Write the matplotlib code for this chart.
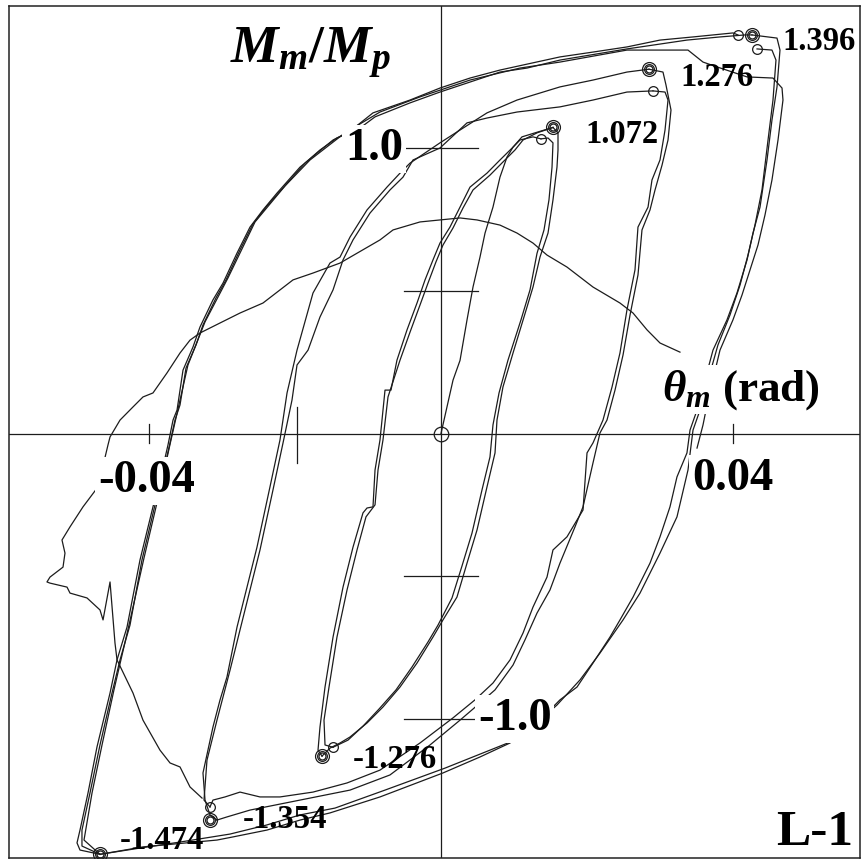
import matplotlib
matplotlib.use("Agg")
import matplotlib.pyplot as plt
import numpy as np

plt.rcParams['font.family'] = ['Liberation Serif', 'DejaVu Serif']
plt.rcParams['mathtext.fontset'] = 'custom'
plt.rcParams['mathtext.it'] = 'Liberation Serif:bold:italic'
plt.rcParams['mathtext.rm'] = 'Liberation Serif:bold'
plt.rcParams['mathtext.bf'] = 'Liberation Serif:bold'

# ---------------------------------------------------------------
# Measured moment-rotation history, specimen L-1
# rotation theta_m in mrad, moment ratio Mm/Mp
# ---------------------------------------------------------------

# first loading from the origin
init_th = [0, 0.82, 1.65, 2.61, 3.57, 4.39, 5.35, 6.04, 7.13, 8.09, 9.05, 9.88, 11.11, 12.89, 15.36]
init_m = [0, 0.093, 0.187, 0.256, 0.398, 0.513, 0.618, 0.702, 0.793, 0.898, 0.968, 1.003, 1.039, 1.053, 1.072]

# small-amplitude cycles: unloading branches
s_down1_th = [15.36, 16.05, 16.05, 15.91, 15.36, 14.68, 13.58, 12.62, 11.80, 9.88, 8.50, 7.68, 7.41, 6.31,
              4.94, 3.57, 2.19, 0.27, -1.10, -3.29, -5.62, -7.96, -10.15, -12.48, -13.85, -15.23, -16.32]
s_down1_m = [1.072, 1.053, 0.993, 0.933, 0.818, 0.702, 0.618, 0.513, 0.443, 0.282, 0.163, 0.047, -0.068, -0.187,
             -0.338, -0.454, -0.573, -0.653, -0.713, -0.804, -0.888, -0.958, -1.014, -1.063, -1.084, -1.102, -1.130]
s_down2_th = [13.72, 14.68, 15.36, 15.23, 14.81, 14.13, 13.17, 12.21, 10.97, 9.19, 7.96, 7.13, 6.72, 5.62,
              4.25, 2.88, 1.51, -0.41, -1.78, -3.98, -6.17, -8.50, -10.70, -12.76, -14.81]
s_down2_m = [1.032, 1.035, 1.018, 0.933, 0.818, 0.713, 0.631, 0.503, 0.398, 0.257, 0.142, 0.030, -0.082, -0.198,
             -0.349, -0.464, -0.576, -0.671, -0.730, -0.818, -0.898, -0.965, -1.025, -1.074, -1.099]

# small-amplitude cycles: reloading branches
s_up1_th = [-16.32, -16.87, -16.60, -15.91, -14.81, -13.44, -12.07, -10.70, -10.15, -9.33, -9.05, -8.37, -7.68,
            -6.86, -6.04, -4.66, -3.29, -2.19, -1.10, -0.14, 1.23, 2.61, 3.98, 6.31, 8.09, 9.88, 10.84, 12.62, 13.72]
s_up1_m = [-1.130, -1.109, -1.028, -0.888, -0.713, -0.538, -0.398, -0.278, -0.261, -0.257, -0.128, -0.023, 0.152,
           0.152, 0.257, 0.363, 0.457, 0.538, 0.608, 0.667, 0.723, 0.793, 0.863, 0.912, 0.958, 1.003, 1.028, 1.039, 1.032]
s_up2_th = [-14.81, -15.91, -16.05, -15.36, -14.27, -12.89, -11.52, -10.29, -9.05, -8.64, -7.96, -7.27, -5.62,
            -4.25, -2.88, -1.78, -0.69, 0.27, 1.65, 3.02, 4.39, 6.72, 8.50, 10.15, 11.25, 13.17, 15.36]
s_up2_m = [-1.099, -1.091, -1.004, -0.888, -0.713, -0.548, -0.408, -0.292, -0.250, -0.128, -0.023, 0.128, 0.257,
           0.355, 0.450, 0.527, 0.601, 0.660, 0.720, 0.790, 0.853, 0.905, 0.951, 0.993, 1.028, 1.053, 1.072]

# medium-amplitude cycles: reloading branches
m_up1_th = [-30.73, -31.69, -32.37, -32.65, -31.28, -30.32, -29.36, -27.98, -26.61, -25.24, -23.46, -22.09,
            -21.12, -19.75, -17.56, -15.23, -13.85, -12.48, -10.15, -7.41, -5.62, -4.25, -0.14, 2.61, 6.31,
            10.43, 16.32, 20.85, 25.51, 28.53]
m_up1_m = [-1.354, -1.336, -1.284, -1.189, -1.028, -0.934, -0.853, -0.678, -0.538, -0.398, -0.187, -0.023,
           0.142, 0.292, 0.492, 0.597, 0.618, 0.688, 0.783, 0.863, 0.912, 0.947, 1.018, 1.063, 1.123,
           1.168, 1.214, 1.238, 1.266, 1.276]
m_up2_th = [-31.69, -32.51, -32.10, -30.73, -28.94, -27.57, -26.20, -24.83, -23.05, -21.67, -20.44, -19.75,
            -18.24, -16.60, -14.81, -13.44, -12.07, -9.74, -7.00, -5.21, -3.84, -0.14, 3.57, 6.31, 10.43,
            16.32, 20.85, 25.51, 29.08]
m_up2_m = [-1.308, -1.284, -1.144, -1.004, -0.829, -0.688, -0.548, -0.408, -0.198, -0.033, 0.117, 0.240,
           0.292, 0.408, 0.503, 0.608, 0.678, 0.772, 0.853, 0.898, 0.958, 1.000, 1.088, 1.105, 1.126,
           1.144, 1.168, 1.196, 1.200]

# medium-amplitude cycles: unloading branches
m_down1_th = [29.08, 30.73, 31.14, 30.73, 30.04, 28.94, 28.40, 27.02, 26.61, 25.51, 24.55, 23.46, 22.22,
              20.85, 20.03, 19.48, 17.28, 15.36, 14.54, 12.62, 11.25, 9.47, 7.13, 4.66, 1.65, -2.88, -8.37,
              -12.89, -17.56, -22.09, -24.83, -27.57, -29.63, -31.28, -31.69]
m_down1_m = [1.200, 1.196, 1.168, 1.063, 0.958, 0.888, 0.793, 0.723, 0.573, 0.433, 0.282, 0.163, 0.047,
             -0.033, -0.068, -0.268, -0.362, -0.408, -0.503, -0.608, -0.699, -0.793, -0.874, -0.933, -0.996,
             -1.084, -1.179, -1.224, -1.256, -1.273, -1.273, -1.256, -1.273, -1.284, -1.308]
m_down2_th = [28.53, 30.45, 30.86, 31.55, 31.14, 30.32, 29.36, 28.67, 27.57, 27.02, 25.93, 24.97, 23.87,
              22.77, 21.81, 20.85, 19.48, 18.38, 16.32, 14.95, 13.17, 11.52, 9.88, 7.41, 5.35, 2.61, -1.51,
              -7.00, -12.48, -19.34, -26.20, -29.36, -30.73]
m_down2_m = [1.276, 1.266, 1.221, 1.133, 1.028, 0.940, 0.853, 0.783, 0.713, 0.555, 0.415, 0.275, 0.152,
             0.047, 0.002, -0.103, -0.257, -0.327, -0.454, -0.548, -0.629, -0.723, -0.811, -0.898, -0.944,
             -1.004, -1.091, -1.196, -1.249, -1.284, -1.319, -1.343, -1.354]

# large-amplitude cycles: reloading branches
l_up1_th = [-46.78, -49.52, -49.93, -49.52, -48.42, -47.19, -45.40, -44.44, -43.07, -41.29, -39.51, -38.55,
            -37.45, -36.76, -36.21, -35.39, -34.02, -33.06, -31.28, -29.90, -27.98, -26.20, -24.42, -22.50,
            -19.34, -17.01, -14.81, -13.44, -11.39, -9.33, -4.25, -0.14, 3.98, 8.09, 16.32, 20.85, 25.51,
            30.04, 34.57, 40.05, 40.74]
l_up1_m = [-1.474, -1.459, -1.434, -1.389, -1.259, -1.098, -0.909, -0.793, -0.678, -0.443, -0.257, -0.163,
           -0.040, 0.047, 0.082, 0.222, 0.303, 0.373, 0.468, 0.527, 0.632, 0.723, 0.783, 0.842,
           0.933, 0.982, 1.028, 1.046, 1.081, 1.123, 1.168, 1.210, 1.245, 1.273, 1.319, 1.336, 1.354,
           1.378, 1.389, 1.403, 1.396]
l_up2_th = [-46.78, -49.25, -49.25, -48.15, -46.78, -45.13, -44.03, -42.66, -41.02, -39.23, -38.27, -37.17,
            -36.49, -35.80, -34.98, -33.61, -32.65, -30.86, -29.49, -27.57, -25.79, -23.87, -21.81, -18.66,
            -16.60, -14.27, -11.11, -9.05, -4.25, -0.14, 3.98, 8.09, 11.80, 16.32, 25.51, 33.74, 38.27,
            41.70, 42.66]
l_up2_m = [-1.474, -1.445, -1.389, -1.259, -1.091, -0.909, -0.793, -0.671, -0.443, -0.250, -0.156, -0.033,
           0.047, 0.100, 0.229, 0.310, 0.380, 0.475, 0.538, 0.643, 0.734, 0.797, 0.856, 0.947,
           0.993, 1.035, 1.070, 1.109, 1.158, 1.196, 1.231, 1.266, 1.280, 1.308, 1.347, 1.378, 1.389,
           1.396, 1.396]
l_up3_th = [-46.78, -48.97, -47.87, -46.50, -44.86, -42.80, -40.74, -38.96, -37.04, -34.71, -32.37, -29.22,
            -25.51, -21.40, -17.97, -13.17, -8.37, -2.88, 3.98, 10.84, 16.32, 25.51, 33.88, 35.94, 37.86,
            41.98, 45.54, 46.78, 46.91, 46.23, 45.40, 44.44, 43.48, 42.39, 41.29, 40.05, 38.27, 36.63,
            35.94, 35.12]
l_up3_m = [-1.474, -1.424, -1.259, -1.091, -0.898, -0.671, -0.436, -0.243, -0.023, 0.240, 0.391, 0.545,
           0.741, 0.867, 0.958, 1.053, 1.126, 1.179, 1.238, 1.280, 1.301, 1.343, 1.343, 1.301, 1.284,
           1.249, 1.245, 1.210, 1.168, 1.028, 0.888, 0.765, 0.660, 0.573, 0.485, 0.398, 0.292, 0.117,
           0.030, -0.051]

# large-amplitude cycles: unloading branches
l_down1_th = [42.66, 46.09, 46.50, 46.09, 45.40, 44.72, 43.76, 42.80, 41.98, 40.60, 39.23, 37.31, 36.21,
              35.12, 34.16, 33.74, 32.37, 31.41, 30.04, 28.67, 26.34, 24.55, 23.18, 20.85, 18.66, 16.32,
              14.27, 12.21, 9.47, 5.35, 0.27, -8.37, -15.23, -19.34, -23.87, -28.53, -30.73, -40.88, -46.78]
l_down1_m = [1.396, 1.385, 1.343, 1.214, 1.098, 0.958, 0.793, 0.702, 0.608, 0.492, 0.398, 0.292, 0.187,
             0.082, 0.012, -0.068, -0.152, -0.257, -0.362, -0.454, -0.573, -0.653, -0.713, -0.804, -0.888,
             -0.933, -0.986, -1.032, -1.084, -1.133, -1.189, -1.273, -1.329, -1.354, -1.389, -1.413,
             -1.424, -1.448, -1.474]
l_down2_th = [43.35, 45.40, 45.95, 45.54, 44.86, 44.03, 43.07, 42.11, 41.02, 39.64, 37.99, 36.63, 35.53,
              34.57, 33.88, 32.37, 30.04, 27.30, 24.97, 21.81, 19.07, 15.91, 13.58, 10.15, 6.04, 0.55,
              -7.68, -14.54, -19.34, -23.87, -28.94, -35.80, -41.29, -46.78]
l_down2_m = [1.347, 1.343, 1.308, 1.168, 1.028, 0.853, 0.730, 0.625, 0.520, 0.415, 0.310, 0.187, 0.082,
             0.012, -0.128, -0.292, -0.419, -0.559, -0.653, -0.769, -0.863, -0.951, -1.004, -1.074,
             -1.116, -1.172, -1.249, -1.312, -1.336, -1.371, -1.403, -1.431, -1.452, -1.474]

# degradation trace after the last cycle
deg_th = [-32.78, -34.43, -35.80, -37.17, -38.55, -40.88, -42.25, -44.44, -44.72, -45.40, -46.36, -46.78,
          -48.56, -50.89, -51.30, -53.64, -54.05, -53.64, -51.85, -51.58, -51.99, -50.89, -49.11, -47.05,
          -45.68, -45.40, -44.03, -42.25, -40.88, -39.51, -38.55, -37.59, -35.80, -34.43, -33.06, -30.32,
          -27.57, -24.42, -20.30, -17.56, -13.85, -8.37, -6.58, -2.88, 2.61, 4.94, 8.09, 10.43, 12.62,
          14.54, 17.28, 20.85, 24.55, 26.34, 28.26, 30.04, 32.78]
deg_m = [-1.277, -1.238, -1.168, -1.154, -1.109, -1.004, -0.909, -0.793, -0.734, -0.520, -0.653, -0.618,
         -0.576, -0.559, -0.538, -0.524, -0.520, -0.503, -0.468, -0.419, -0.373, -0.327, -0.257, -0.187,
         -0.040, -0.012, 0.047, 0.093, 0.128, 0.142, 0.177, 0.212, 0.282, 0.327, 0.352, 0.387,
         0.422, 0.457, 0.538, 0.562, 0.597, 0.678, 0.713, 0.741, 0.755, 0.748, 0.730, 0.702, 0.667,
         0.625, 0.583, 0.513, 0.457, 0.422, 0.363, 0.317, 0.285]

# short vertical jump in the record
jump_th = [-19.75, -19.75]
jump_m = [0.093, -0.103]

# peak points (circled)
peak_th = [15.36, 13.72, 28.53, 29.08, 42.66, 40.74, 43.35, -16.32, -14.81, -31.69, -31.69, -46.78]
peak_m = [1.072, 1.032, 1.276, 1.200, 1.396, 1.396, 1.347, -1.130, -1.099, -1.354, -1.308, -1.474]
peak_double = [True, False, True, False, True, False, False, True, False, True, False, True]

# peak value annotations
peak_text = ["1.072", "1.276", "1.396", "-1.276", "-1.354", "-1.474"]

# axis ticks
xtick_vals = [-0.04, 0.04]
xtick_text = ["-0.04", "0.04"]
ytick_vals = [-1.0, -0.5, 0.5, 1.0]
ytick_text = {1.0: "1.0", -1.0: "-1.0"}

# ---------------------------------------------------------------
fig = plt.figure(figsize=(8.63, 8.60), dpi=100)
ax = fig.add_axes([9 / 863, 2 / 860, 851 / 863, 852 / 860])
ax.set_xlim(-0.059259, 0.057476)
ax.set_ylim(-1.48686, 1.49737)
ax.set_xticks([])
ax.set_yticks([])
for sp in ax.spines.values():
    sp.set_linewidth(1.1)
    sp.set_color('#222222')

ink = '#1c1c1c'
lw = 0.9

# cross-hair axes through the origin
ax.axhline(0, color=ink, lw=0.9, zorder=1)
ax.axvline(0, color=ink, lw=0.9, zorder=1)
for xv in xtick_vals:
    ax.plot([xv, xv], [-0.035, 0.035], color=ink, lw=0.9, zorder=1)
for yv in ytick_vals:
    ax.plot([-0.0051, 0.0051], [yv, yv], color=ink, lw=0.9, zorder=1)


def trace(th, m, w=lw):
    ax.plot(np.asarray(th) / 1000.0, m, color=ink, lw=w, solid_joinstyle='round', zorder=2)


for th, m in [(init_th, init_m), (s_down1_th, s_down1_m), (s_down2_th, s_down2_m),
              (s_up1_th, s_up1_m), (s_up2_th, s_up2_m),
              (m_up1_th, m_up1_m), (m_up2_th, m_up2_m),
              (m_down1_th, m_down1_m), (m_down2_th, m_down2_m),
              (l_up1_th, l_up1_m), (l_up2_th, l_up2_m), (l_up3_th, l_up3_m),
              (l_down1_th, l_down1_m), (l_down2_th, l_down2_m),
              (deg_th, deg_m), (jump_th, jump_m)]:
    trace(th, m)

# circled peaks
pth = np.asarray(peak_th) / 1000.0
pm = np.asarray(peak_m)
dbl = np.asarray(peak_double)
ax.plot(pth, pm, 'o', ms=7.0, mfc='none', mec=ink, mew=0.9, zorder=4)
ax.plot(pth[dbl], pm[dbl], 'o', ms=10.0, mfc='none', mec=ink, mew=0.9, zorder=4)
ax.plot(pth[dbl], pm[dbl], 'o', ms=5.0, mfc='none', mec=ink, mew=0.9, zorder=4)
ax.plot([0], [0], 'o', ms=10.5, mfc='none', mec=ink, mew=0.9, zorder=4)

bold = dict(fontweight='bold', color='black', va='baseline')
wbox = dict(facecolor='white', edgecolor='none', pad=2)

# peak annotations (placed next to the circled points)
ax.text(0.01975, 1.018, peak_text[0], fontsize=23.5, ha='left', zorder=5, **bold)
ax.text(0.03278, 1.217, peak_text[1], fontsize=23.5, ha='left', zorder=5, **bold)
ax.text(0.04678, 1.343, peak_text[2], fontsize=23.5, ha='left', zorder=5, **bold)
ax.text(-0.01207, -1.172, peak_text[3], fontsize=23.5, ha='left', zorder=5, **bold)
ax.text(-0.02716, -1.382, peak_text[4], fontsize=23.5, ha='left', zorder=5, **bold)
ax.text(-0.04403, -1.455, peak_text[5], fontsize=23.5, ha='left', zorder=5, **bold)

# tick values
ax.text(-0.00521, 0.958, ytick_text[1.0], fontsize=33.5, ha='right', bbox=wbox, zorder=5, **bold)
ax.text(0.00508, -1.039, ytick_text[-1.0], fontsize=33.5, ha='left', bbox=wbox, zorder=5, **bold)
ax.text(-0.04705, -0.205, xtick_text[0], fontsize=33.5, ha='left', bbox=wbox, zorder=5, **bold)
ax.text(0.03443, -0.198, xtick_text[1], fontsize=33.5, ha='left', bbox=wbox, zorder=5, **bold)

# axis titles and specimen name
ax.text(0.03030, 0.117, r'$\theta_m$ (rad)', fontsize=32.5, ha='left', bbox=wbox, zorder=5, **bold)
ax.text(-0.02894, 1.298, r'$M_m/M_p$', fontsize=38.5, ha='left', bbox=wbox, zorder=5, **bold)
ax.text(0.04600, -1.441, 'L-1', fontsize=37, ha='left', zorder=5, **bold)

fig.savefig('out.png', dpi=100, facecolor='white')
